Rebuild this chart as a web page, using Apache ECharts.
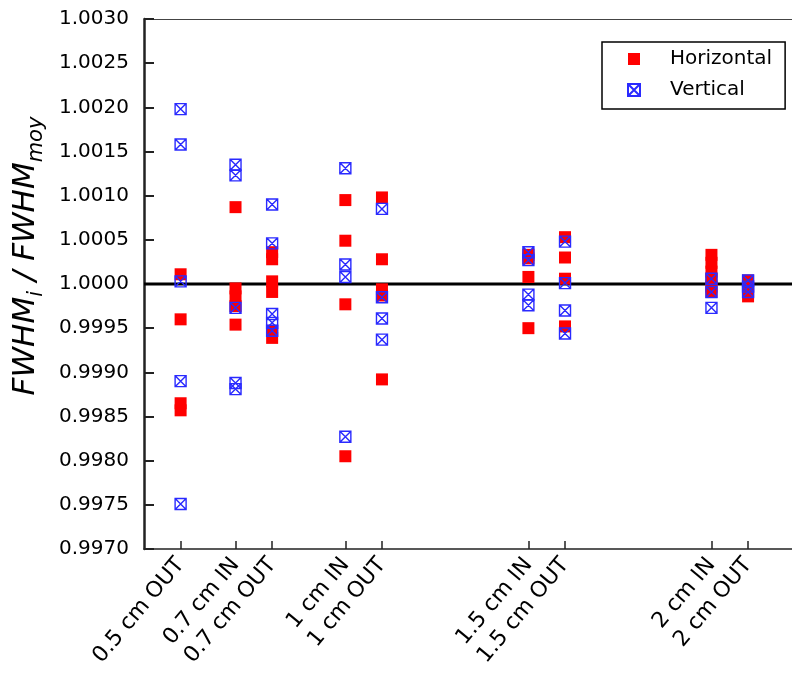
<!DOCTYPE html>
<html>
<head>
<meta charset="utf-8">
<script src="https://cdn.jsdelivr.net/npm/echarts@6/dist/echarts.min.js"></script>
<style>html,body{margin:0;padding:0;background:#fff}#c{width:792px;height:675px}</style>
</head>
<body>
<div id="c"></div>
<script>
// Category positions (cm, IN shifted left, OUT shifted right) and labels
var categories = ['0.5 cm OUT','0.7 cm IN','0.7 cm OUT','1 cm IN','1 cm OUT','1.5 cm IN','1.5 cm OUT','2 cm IN','2 cm OUT'];
var positions  = [0.5, 0.65, 0.75, 0.95, 1.05, 1.45, 1.55, 1.95, 2.05];

// Horizontal (red squares), per category
var horizontal = [
  [1.00011, 0.99960, 0.99865, 0.99857],
  [1.00087, 0.99995, 0.99986, 0.99975, 0.99954],
  [1.00036, 1.00028, 1.00003, 0.99991, 0.99947, 0.99939],
  [1.00095, 1.00049, 0.99977, 0.99805],
  [1.00098, 1.00028, 0.99994, 0.99987, 0.99892],
  [1.00033, 1.00029, 1.00008, 0.99950],
  [1.00053, 1.00030, 1.00006, 0.99952],
  [1.00033, 1.00024, 1.00014, 1.00006, 0.99997, 0.99991],
  [1.00004, 0.99998, 0.99992, 0.99986]
];
// Vertical (blue crossed squares), per category
var vertical = [
  [1.00198, 1.00158, 1.00003, 0.99890, 0.99751],
  [1.00135, 1.00123, 0.99973, 0.99888, 0.99881],
  [1.00090, 1.00046, 0.99966, 0.99956, 0.99947],
  [1.00131, 1.00022, 1.00008, 0.99827],
  [1.00085, 0.99985, 0.99961, 0.99937],
  [1.00036, 1.00027, 0.99988, 0.99976],
  [1.00048, 1.00001, 0.99970, 0.99944],
  [1.00006, 0.99991, 0.99973],
  [1.00004, 0.99997, 0.99991]
];
var yMin = 0.9970, yMax = 1.0030, yStep = 0.0005;
var reference = 1.0000;

function pairs(groups){
  var out = [];
  groups.forEach(function(g, i){ g.forEach(function(v){ out.push([positions[i], v]); }); });
  return out;
}

var font = 'DejaVu Sans';
var chart = echarts.init(document.getElementById('c'));
chart.setOption({
  animation: false,
  backgroundColor: '#fff',
  grid: {left: 144, right: 0, top: 19, bottom: 126},
  legend: {
    orient: 'vertical', left: 602, top: 42,
    padding: [6, 13, 8, 25],
    borderColor: '#000', borderWidth: 1.5,
    itemWidth: 12, itemHeight: 12, itemGap: 9,
    textStyle: {fontFamily: font, fontSize: 20, color: '#000', lineHeight: 22, padding: [0, 0, 0, 25]},
    data: ['Horizontal', 'Vertical']
  },
  xAxis: [{
    type: 'value', min: 0.4, max: 2.17,
    splitLine: {show: false},
    axisLine: {lineStyle: {color: '#222', width: 1.5}},
    axisTick: {inside: true, length: 8, lineStyle: {color: '#222', width: 1.5}, customValues: positions},
    axisLabel: {
      customValues: positions, rotate: 50, margin: 12,
      fontFamily: font, fontSize: 22, color: '#000',
      formatter: function(v){
        for (var i = 0; i < positions.length; i++) if (Math.abs(positions[i]-v) < 1e-6) return categories[i];
        return '';
      }
    }
  }, {
    type: 'value', position: 'top', min: 0.4, max: 2.17,
    axisLine: {show: true, lineStyle: {color: '#444', width: 1}},
    axisTick: {show: false}, axisLabel: {show: false}, splitLine: {show: false}
  }],
  yAxis: {
    type: 'value', min: yMin, max: yMax, interval: yStep,
    splitLine: {show: false},
    axisLine: {show: true, lineStyle: {color: '#222', width: 2.5}},
    axisTick: {inside: true, length: 10, lineStyle: {color: '#222', width: 2}},
    axisLabel: {
      margin: 15, fontFamily: font, fontSize: 20, color: '#000',
      formatter: function(v){ return v.toFixed(4); }
    }
  },
  graphic: [{
    type: 'text', x: 27, y: 256, rotation: Math.PI/2,
    style: {
      text: '{a|FWHM}{b|i}{a| / FWHM}{b|moy}',
      align: 'center', verticalAlign: 'middle',
      fill: '#000',
      rich: {
        a: {fontFamily: font, fontStyle: 'italic', fontSize: 31, lineHeight: 34, verticalAlign: 'top', fill: '#000'},
        b: {fontFamily: font, fontStyle: 'italic', fontSize: 21, lineHeight: 21, padding: [16, 0, 0, 0], verticalAlign: 'top', fill: '#000'}
      }
    }
  }],
  series: [{
    type: 'line', name: 'ref', silent: true, z: 1,
    data: [[0.4, reference], [2.17, reference]],
    symbol: 'none', lineStyle: {color: '#000', width: 3}
  }, {
    type: 'scatter', name: 'Horizontal', z: 2,
    symbol: 'path://M0 0H10V10H0Z', symbolSize: 12,
    itemStyle: {color: '#ff0000', opacity: 1},
    data: pairs(horizontal)
  }, {
    type: 'scatter', name: 'Vertical', z: 3,
    symbol: 'path://M0 0H10V10H0Z M0 0L10 10 M10 0L0 10',
    symbolSize: 11,
    itemStyle: {color: 'rgba(0,0,0,0)', borderColor: '#2a2aff', borderWidth: 1.4, opacity: 1},
    data: pairs(vertical)
  }]
});
</script>
</body>
</html>
